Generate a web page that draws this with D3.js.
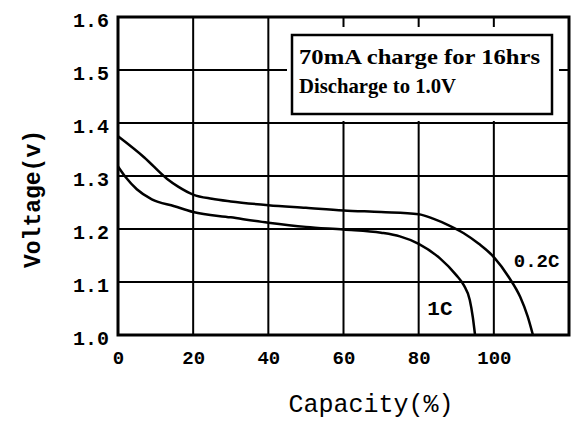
<!DOCTYPE html>
<html><head><meta charset="utf-8">
<script src="https://cdn.jsdelivr.net/npm/d3@7"></script>
<style>html,body{margin:0;padding:0;background:#fff;}svg{display:block;}</style>
</head><body>
<svg id="c" width="579" height="423"></svg>
<script>
// ---- data ----
const xTicks = [0, 20, 40, 60, 80, 100];
const yTicks = [1.0, 1.1, 1.2, 1.3, 1.4, 1.5, 1.6];
const seriesNames = ["0.2C", "1C"];
const cap02C = [0, 7, 13, 16, 20, 25, 30, 40, 50, 60, 70, 80, 84, 88, 92, 96, 100, 104, 107, 109, 110.4];
const volt02C = [1.375, 1.335, 1.295, 1.28, 1.265, 1.257, 1.252, 1.245, 1.24, 1.235, 1.232, 1.228, 1.219, 1.207, 1.192, 1.172, 1.147, 1.109, 1.072, 1.035, 1.0];
const cap1C = [0, 2, 5, 9, 15, 20, 30, 40, 50, 60, 70, 75, 80, 85.6, 90, 92, 93.6, 94.4, 95];
const volt1C = [1.318, 1.298, 1.275, 1.256, 1.243, 1.232, 1.222, 1.212, 1.204, 1.199, 1.193, 1.186, 1.172, 1.145, 1.113, 1.094, 1.066, 1.034, 1.0];
const noteLines = ["70mA charge for 16hrs", "Discharge to 1.0V"];
const xTitle = "Capacity(%)";
const yTitle = "Voltage(v)";

// ---- layout ----
const L = 118, R = 569, T = 17, B = 335;
const svg = d3.select("#c");
const x = d3.scaleLinear().domain([0, 120]).range([L, R]);
const y = d3.scaleLinear().domain([1.0, 1.6]).range([B, T]);

// grid
const g = svg.append("g");
g.selectAll(".vg").data(xTicks.concat([120]).filter(d => d > 0)).enter().append("line")
  .attr("x1", d => x(d)).attr("x2", d => x(d)).attr("y1", T).attr("y2", B)
  .attr("stroke", "#000").attr("stroke-width", 2);
g.selectAll(".hg").data(yTicks).enter().append("line")
  .attr("x1", L).attr("x2", R).attr("y1", d => y(d)).attr("y2", d => y(d))
  .attr("stroke", "#000").attr("stroke-width", 2);
// frame
svg.append("rect").attr("x", L).attr("y", T).attr("width", R - L).attr("height", B - T)
  .attr("fill", "none").attr("stroke", "#000").attr("stroke-width", 3);

// axes tick labels via d3 axes
const xAxis = d3.axisBottom(x).tickValues(xTicks).tickSize(0).tickPadding(0).tickFormat(d3.format("d"));
const xa = svg.append("g").attr("transform", `translate(0,${B + 15})`).call(xAxis);
xa.select(".domain").remove();
xa.selectAll("text").attr("font-family", "Liberation Mono, monospace").attr("font-weight", "bold")
  .attr("font-size", 19).attr("fill", "#000").attr("dy", "0.71em");

const yAxis = d3.axisLeft(y).tickValues(yTicks).tickSize(0).tickPadding(0).tickFormat(d3.format(".1f"));
const ya = svg.append("g").attr("transform", `translate(${L - 9},0)`).call(yAxis);
ya.select(".domain").remove();
ya.selectAll("text").attr("font-family", "Liberation Mono, monospace").attr("font-weight", "bold")
  .attr("font-size", 20).attr("fill", "#000").attr("dy", "0.45em");

// curves
const line = d3.line().x(d => x(d[0])).y(d => y(d[1])).curve(d3.curveMonotoneX);
const data02 = cap02C.map((c, i) => [c, volt02C[i]]);
const data1 = cap1C.map((c, i) => [c, volt1C[i]]);
svg.selectAll(".curve").data([data02, data1]).enter().append("path")
  .attr("d", line).attr("fill", "none").attr("stroke", "#000").attr("stroke-width", 2.5);

// series labels
svg.append("text").attr("x", x(105.3)).attr("y", y(1.128)).text(seriesNames[0])
  .attr("font-family", "Liberation Mono, monospace").attr("font-weight", "bold").attr("font-size", 19);
svg.append("text").attr("x", x(82.3)).attr("y", y(1.038)).text(seriesNames[1])
  .attr("font-family", "Liberation Mono, monospace").attr("font-weight", "bold").attr("font-size", 21);

// note box
svg.append("rect").attr("x", 287).attr("y", 27).attr("width", 272).attr("height", 94).attr("fill", "#fff");
svg.append("rect").attr("x", 292).attr("y", 35).attr("width", 260).attr("height", 79)
  .attr("fill", "#fff").attr("stroke", "#000").attr("stroke-width", 2.5);
svg.selectAll(".note").data(noteLines).enter().append("text")
  .attr("x", 299).attr("y", (d, i) => 64 + i * 29).text(d => d)
  .attr("font-family", "Liberation Serif, serif").attr("font-weight", "bold").attr("font-size", 21)
  .attr("textLength", (d, i) => i === 0 ? 241 : 157).attr("lengthAdjust", "spacingAndGlyphs");

// axis titles
svg.append("text").attr("x", 371).attr("y", 412).attr("text-anchor", "middle").text(xTitle)
  .attr("font-family", "Liberation Mono, monospace").attr("font-size", 25);
svg.append("text").attr("transform", "translate(40,199) rotate(-90)").attr("text-anchor", "middle").text(yTitle)
  .attr("font-family", "Liberation Mono, monospace").attr("font-weight", "bold").attr("font-size", 23);
</script>
</body></html>
